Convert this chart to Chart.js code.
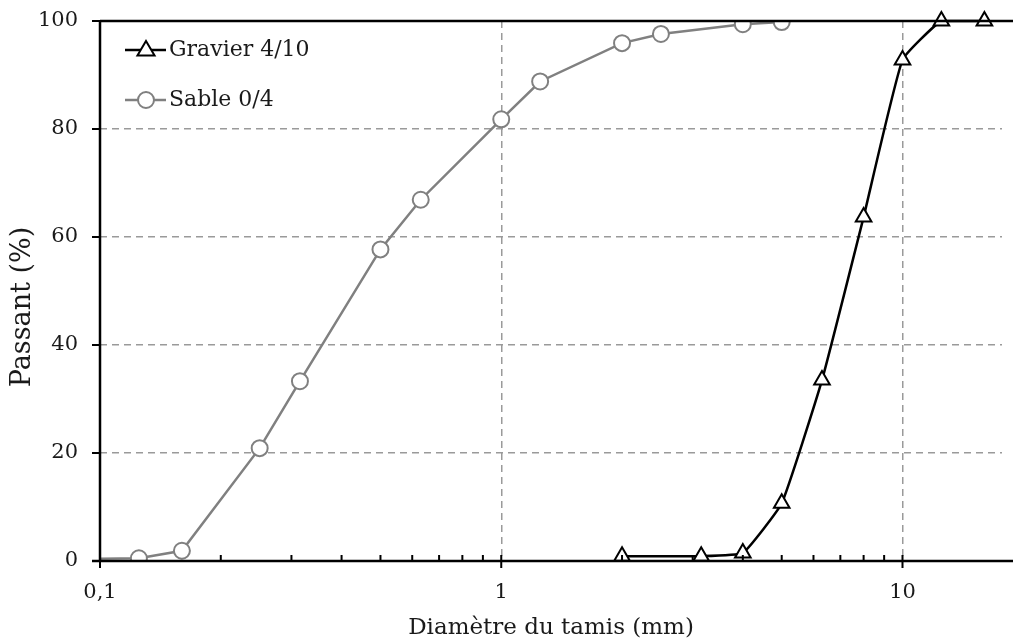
<!DOCTYPE html>
<html>
<head>
<meta charset="utf-8">
<script src="https://cdn.jsdelivr.net/npm/chart.js@4"></script>
<style>
  html, body { margin: 0; padding: 0; background: #fff; overflow: hidden; }
  #wrap { width: 1013px; height: 643px; }
</style>
</head>
<body>
<div id="wrap"><canvas id="chart"></canvas></div>
<script>
// tamis (mm) et passants (%)
var sableTamis = [0.08, 0.125, 0.16, 0.25, 0.315, 0.5, 0.63, 1, 1.25, 2, 2.5, 4, 5];
var sablePassant = [0.3, 0.5, 1.9, 20.9, 33.3, 57.7, 66.9, 81.8, 88.8, 95.9, 97.6, 99.4, 99.8];

var gravierTamis = [2, 3.15, 4, 5, 6.3, 8, 10, 12.5, 16];
var gravierPassant = [0.9, 0.9, 1.5, 10.7, 33.5, 63.7, 92.8, 100, 100];

var xTicks = [0.1, 0.2, 0.3, 0.4, 0.5, 0.6, 0.7, 0.8, 0.9, 1, 2, 3, 4, 5, 6, 7, 8, 9, 10];
var xLabels = { '0.1': '0,1', '1': '1', '10': '10' };
var yTicks = [0, 20, 40, 60, 80, 100];
var yTitle = 'Passant (%)';

var FONT = 'DejaVu Serif';
var TXT = '#1a1a1a';

function toPoints(xs, ys) {
    return xs.map((x, i) => ({ x: x, y: ys[i] }));
}

function isMajor(v) {
    return xLabels.hasOwnProperty(String(v));
}

// axes, graduations, titre vertical et légende dessinés à la main
var axesPlugin = {
    id: 'axes',
    afterDatasetsDraw: function (chart) {
        var ctx = chart.ctx;
        var a = chart.chartArea;
        var xs = chart.scales.x, ys = chart.scales.y;
        var right = chart.width;
        ctx.save();
        ctx.strokeStyle = '#000';
        ctx.lineWidth = 2.5;
        ctx.beginPath();
        ctx.moveTo(a.left, a.top);
        ctx.lineTo(right, a.top);
        ctx.moveTo(a.left, a.top);
        ctx.lineTo(a.left, a.bottom);
        ctx.moveTo(a.left - 8, a.bottom);
        ctx.lineTo(right, a.bottom);
        ctx.stroke();

        ctx.lineWidth = 2;
        ctx.beginPath();
        xTicks.forEach(function (v) {
            var px = xs.getPixelForValue(v);
            ctx.moveTo(px, a.bottom - 6);
            ctx.lineTo(px, isMajor(v) ? a.bottom + 7 : a.bottom);
        });
        yTicks.forEach(function (v) {
            var py = ys.getPixelForValue(v);
            ctx.moveTo(a.left - 8, py);
            ctx.lineTo(a.left, py);
        });
        ctx.stroke();

        // titre de l'axe Y
        ctx.save();
        ctx.translate(23, 307);
        ctx.rotate(-Math.PI / 2);
        ctx.fillStyle = TXT;
        ctx.font = '27px "' + FONT + '"';
        ctx.textAlign = 'center';
        ctx.textBaseline = 'middle';
        ctx.fillText(yTitle, 0, 0);
        ctx.restore();

        // légende
        var rows = [50, 100];
        chart.data.datasets.forEach(function (ds, i) {
            var y = rows[i];
            ctx.strokeStyle = ds.borderColor;
            ctx.lineWidth = ds.borderWidth;
            ctx.beginPath();
            ctx.moveTo(125, y);
            ctx.lineTo(166, y);
            ctx.stroke();
            ctx.fillStyle = ds.pointBackgroundColor;
            ctx.strokeStyle = ds.pointBorderColor;
            ctx.lineWidth = ds.pointBorderWidth;
            ctx.beginPath();
            if (ds.pointStyle === 'circle') {
                ctx.arc(146, y, ds.pointRadius, 0, Math.PI * 2);
            } else {
                var r = ds.pointRadius;
                ctx.moveTo(146, y - r);
                ctx.lineTo(146 + r * 0.95, y + r * 0.6);
                ctx.lineTo(146 - r * 0.95, y + r * 0.6);
                ctx.closePath();
            }
            ctx.fill();
            ctx.stroke();
            ctx.fillStyle = TXT;
            ctx.font = '22px "' + FONT + '"';
            ctx.textBaseline = 'middle';
            ctx.textAlign = 'left';
            ctx.fillText(ds.label, 169, y);
        });
        ctx.restore();
    }
};

var ctx = document.getElementById('chart').getContext('2d');

var chart = new Chart(ctx, {
    type: 'line',
    data: {
        datasets: [{
            label: 'Gravier 4/10',
            data: toPoints(gravierTamis, gravierPassant),
            borderColor: '#000',
            borderWidth: 2.5,
            pointStyle: 'triangle',
            pointRadius: 9,
            pointBorderWidth: 2,
            pointBackgroundColor: '#fff',
            pointBorderColor: '#000',
            tension: 0.12,
            clip: false
        }, {
            label: 'Sable 0/4',
            data: toPoints(sableTamis, sablePassant),
            borderColor: '#808080',
            borderWidth: 2.5,
            pointStyle: 'circle',
            pointRadius: 8,
            pointBorderWidth: 2,
            pointBackgroundColor: '#fff',
            pointBorderColor: '#808080',
            tension: 0
        }]
    },
    options: {
        responsive: true,
        maintainAspectRatio: false,
        animation: false,
        layout: { padding: { top: 21, right: 0, left: 0, bottom: 0 } },
        plugins: {
            legend: { display: false },
            tooltip: { enabled: false }
        },
        scales: {
            x: {
                type: 'logarithmic',
                min: 0.1,
                max: 17.7,
                afterBuildTicks: function (scale) {
                    scale.ticks = xTicks.map(v => ({ value: v }));
                },
                afterFit: function (scale) {
                    scale.height = 82;
                    scale.paddingLeft = 0;
                    scale.paddingRight = 0;
                },
                ticks: {
                    autoSkip: false,
                    maxRotation: 0,
                    padding: 19,
                    color: TXT,
                    font: { family: FONT, size: 21 },
                    callback: function (v) {
                        return xLabels[String(v)] || '';
                    }
                },
                grid: {
                    drawTicks: false,
                    lineWidth: 1.5,
                    color: function (c) {
                        var v = c.tick && c.tick.value;
                        return (v === 1 || v === 10) ? '#9a9a9a' : 'rgba(0,0,0,0)';
                    }
                },
                border: { display: false, dash: [7, 5] },
                title: {
                    display: true,
                    text: 'Diamètre du tamis (mm)',
                    color: TXT,
                    font: { family: FONT, size: 23 },
                    padding: { top: 0, bottom: 1 }
                }
            },
            y: {
                min: 0,
                max: 100,
                afterBuildTicks: function (scale) {
                    scale.ticks = yTicks.map(v => ({ value: v }));
                },
                afterFit: function (scale) {
                    scale.width = 100;
                    scale.paddingTop = 0;
                    scale.paddingBottom = 0;
                },
                ticks: {
                    padding: 22,
                    color: TXT,
                    font: { family: FONT, size: 21 }
                },
                grid: {
                    drawTicks: false,
                    lineWidth: 1.5,
                    color: function (c) {
                        var v = c.tick && c.tick.value;
                        return (v > 0 && v < 100) ? '#9a9a9a' : 'rgba(0,0,0,0)';
                    }
                },
                border: { display: false, dash: [7, 5] }
            }
        }
    },
    plugins: [axesPlugin]
});
</script>
</body>
</html>
